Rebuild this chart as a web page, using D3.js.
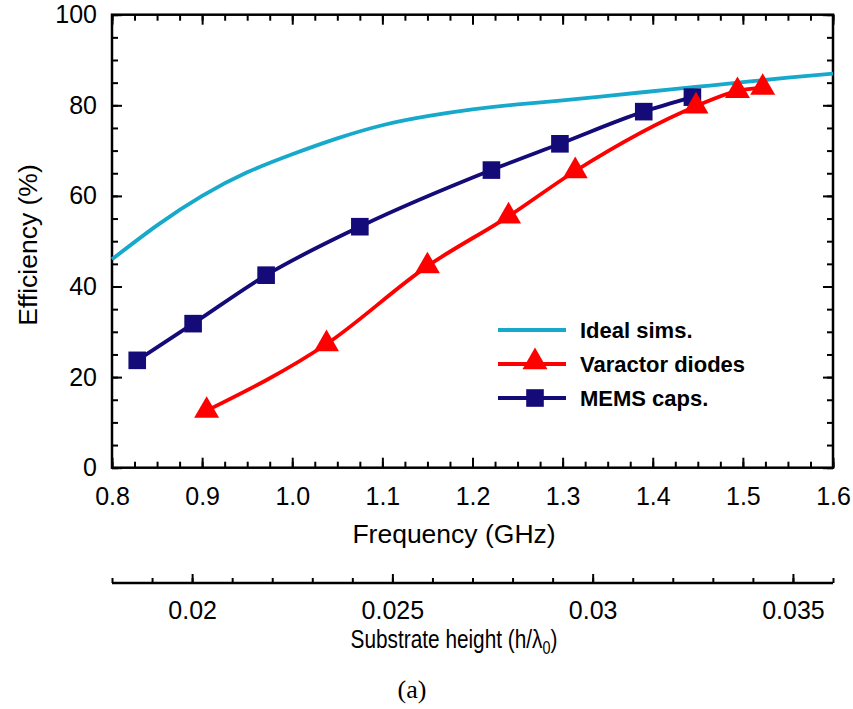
<!DOCTYPE html>
<html>
<head>
<meta charset="utf-8">
<script src="https://cdn.jsdelivr.net/npm/d3@7"></script>
<style>
  body { margin: 0; background: #fff; }
  text { font-family: "Liberation Sans", Arial, Helvetica, sans-serif; fill: #000; }
</style>
</head>
<body>
<svg id="chart" width="853" height="709"></svg>
<script>
// Efficiency versus frequency for the tunable antenna
const idealFreq = [0.80, 0.85, 0.90, 0.95, 1.00, 1.05, 1.10, 1.15, 1.20, 1.25, 1.30, 1.35, 1.40, 1.45, 1.50, 1.55, 1.60];
const idealEff  = [46.0, 53.5, 60.0, 65.2, 69.2, 72.7, 75.6, 77.6, 79.1, 80.2, 81.1, 82.1, 83.1, 84.1, 85.1, 86.1, 87.0];

const varactorFreq = [0.905, 1.038, 1.150, 1.240, 1.314, 1.448, 1.494, 1.522];
const varactorEff  = [12.6, 27.3, 44.5, 55.5, 65.5, 79.8, 83.2, 83.9];

const memsFreq = [0.828, 0.890, 0.971, 1.075, 1.221, 1.297, 1.390, 1.444];
const memsEff  = [23.7, 31.8, 42.5, 53.2, 65.7, 71.5, 78.6, 81.8];

const seriesNames = ["Ideal sims.", "Varactor diodes", "MEMS caps."];

const freqTicks = [0.8, 0.9, 1.0, 1.1, 1.2, 1.3, 1.4, 1.5, 1.6];
const freqTickLabels = ["0.8", "0.9", "1.0", "1.1", "1.2", "1.3", "1.4", "1.5", "1.6"];
const effTicks = [0, 20, 40, 60, 80, 100];
const heightTicks = [0.02, 0.025, 0.03, 0.035];
const heightTickLabels = ["0.02", "0.025", "0.03", "0.035"];

const colIdeal = "#17a9cb", colVaractor = "#ff0000", colMems = "#140a78";

const svg = d3.select("#chart");
const L = 112, R = 833, T = 14.7, B = 467.7;

const x = d3.scaleLinear().domain([0.8, 1.6]).range([L, R]);
const y = d3.scaleLinear().domain([0, 100]).range([B, T]);
const h = d3.scaleLinear().domain([0.018, 0.036]).range([L, R]);

const minorFreq = d3.range(0, 33).map(i => 0.8 + i * 0.025);
const minorEff = d3.range(0, 21).map(i => i * 5);
const minorHeight = d3.range(0, 19).map(i => 0.018 + i * 0.001);

function styleAxis(g) {
  g.select(".domain").remove();
  g.selectAll(".tick line").attr("stroke", "#000").attr("stroke-width", 2);
  g.selectAll(".tick text").style("font-size", "25px").attr("fill", "#000");
}

// minor ticks on all four sides (pointing inward)
svg.append("g").attr("transform", `translate(0,${B})`)
  .call(d3.axisBottom(x).tickValues(minorFreq).tickSize(-6).tickFormat(""))
  .call(styleAxis);
svg.append("g").attr("transform", `translate(0,${T})`)
  .call(d3.axisTop(x).tickValues(minorFreq).tickSize(-6).tickFormat(""))
  .call(styleAxis);
svg.append("g").attr("transform", `translate(${L},0)`)
  .call(d3.axisLeft(y).tickValues(minorEff).tickSize(-6).tickFormat(""))
  .call(styleAxis);
svg.append("g").attr("transform", `translate(${R},0)`)
  .call(d3.axisRight(y).tickValues(minorEff).tickSize(-6).tickFormat(""))
  .call(styleAxis);

// major ticks with labels
svg.append("g").attr("transform", `translate(0,${B})`)
  .call(d3.axisBottom(x).tickValues(freqTicks).tickSize(-10).tickPadding(20)
    .tickFormat((d, i) => freqTickLabels[i]))
  .call(styleAxis);
svg.append("g").attr("transform", `translate(0,${T})`)
  .call(d3.axisTop(x).tickValues(freqTicks).tickSize(-10).tickFormat(""))
  .call(styleAxis);
svg.append("g").attr("transform", `translate(${L},0)`)
  .call(d3.axisLeft(y).tickValues(effTicks).tickSize(-10).tickPadding(15))
  .call(styleAxis);
svg.append("g").attr("transform", `translate(${R},0)`)
  .call(d3.axisRight(y).tickValues(effTicks).tickSize(-10).tickFormat(""))
  .call(styleAxis);

// plot frame
svg.append("rect").attr("x", L).attr("y", T).attr("width", R - L).attr("height", B - T)
  .attr("fill", "none").attr("stroke", "#000").attr("stroke-width", 2.5);

// axis titles
svg.append("text").attr("x", 454).attr("y", 543).attr("text-anchor", "middle")
  .style("font-size", "26.5px").text("Frequency (GHz)");
svg.append("text").attr("transform", "translate(37,245) rotate(-90)")
  .attr("text-anchor", "middle").style("font-size", "26.5px").text("Efficiency (%)");

// series lines
const idealData = idealFreq.map((f, i) => [f, idealEff[i]]);
const varData = varactorFreq.map((f, i) => [f, varactorEff[i]]);
const memsData = memsFreq.map((f, i) => [f, memsEff[i]]);

const smoothLine = d3.line().x(d => x(d[0])).y(d => y(d[1])).curve(d3.curveNatural);
const pointLine = d3.line().x(d => x(d[0])).y(d => y(d[1])).curve(d3.curveMonotoneX);

svg.append("path").datum(idealData).attr("d", smoothLine)
  .attr("fill", "none").attr("stroke", colIdeal).attr("stroke-width", 3.8);
svg.append("path").datum(memsData).attr("d", pointLine)
  .attr("fill", "none").attr("stroke", colMems).attr("stroke-width", 3.8);
svg.append("path").datum(varData).attr("d", pointLine)
  .attr("fill", "none").attr("stroke", colVaractor).attr("stroke-width", 3.8);

// markers
const sq = d3.symbol().type(d3.symbolSquare).size(310);
const tri = d3.symbol().type(d3.symbolTriangle).size(270);
svg.append("g").selectAll("path").data(memsData).join("path")
  .attr("transform", d => `translate(${x(d[0])},${y(d[1])})`)
  .attr("d", sq).attr("fill", colMems);
svg.append("g").selectAll("path").data(varData).join("path")
  .attr("transform", d => `translate(${x(d[0])},${y(d[1])})`)
  .attr("d", tri).attr("fill", colVaractor);

// legend
const legend = svg.append("g");
const legendColors = [colIdeal, colVaractor, colMems];
const legendY = [330, 364, 398];
seriesNames.forEach((name, i) => {
  const g = legend.append("g").attr("transform", `translate(0,${legendY[i]})`);
  g.append("line").attr("x1", 498).attr("x2", 566).attr("stroke", legendColors[i]).attr("stroke-width", 3.8);
  if (i === 1) g.append("path").attr("transform", "translate(535,-2)").attr("d", tri).attr("fill", colVaractor);
  if (i === 2) g.append("path").attr("transform", "translate(535,0)").attr("d", sq).attr("fill", colMems);
  g.append("text").attr("x", 580).attr("y", 8).style("font-size", "22px").style("font-weight", "bold").text(name);
});

// secondary axis: normalised substrate height
const hAxisY = 583;
svg.append("g").attr("transform", `translate(0,${hAxisY})`)
  .call(d3.axisBottom(h).tickValues(minorHeight).tickSize(-5).tickFormat(""))
  .call(styleAxis);
svg.append("g").attr("transform", `translate(0,${hAxisY})`)
  .call(d3.axisBottom(h).tickValues(heightTicks).tickSize(-9).tickPadding(18)
    .tickFormat((d, i) => heightTickLabels[i]))
  .call(styleAxis);
svg.append("line").attr("x1", L).attr("x2", R).attr("y1", hAxisY).attr("y2", hAxisY)
  .attr("stroke", "#000").attr("stroke-width", 2.5);

// condensed title under the secondary axis
const sub = svg.append("text").attr("transform", "translate(454,648) scale(0.8,1)")
  .attr("text-anchor", "middle").style("font-size", "26px");
sub.append("tspan").text("Substrate height (h/λ");
sub.append("tspan").attr("dy", 6).style("font-size", "18px").text("0");
sub.append("tspan").attr("dy", -6).text(")");

svg.append("text").attr("x", 412).attr("y", 698).attr("text-anchor", "middle")
  .style("font-family", "'Liberation Serif', 'Times New Roman', serif").style("font-size", "26px").text("(a)");
</script>
</body>
</html>
